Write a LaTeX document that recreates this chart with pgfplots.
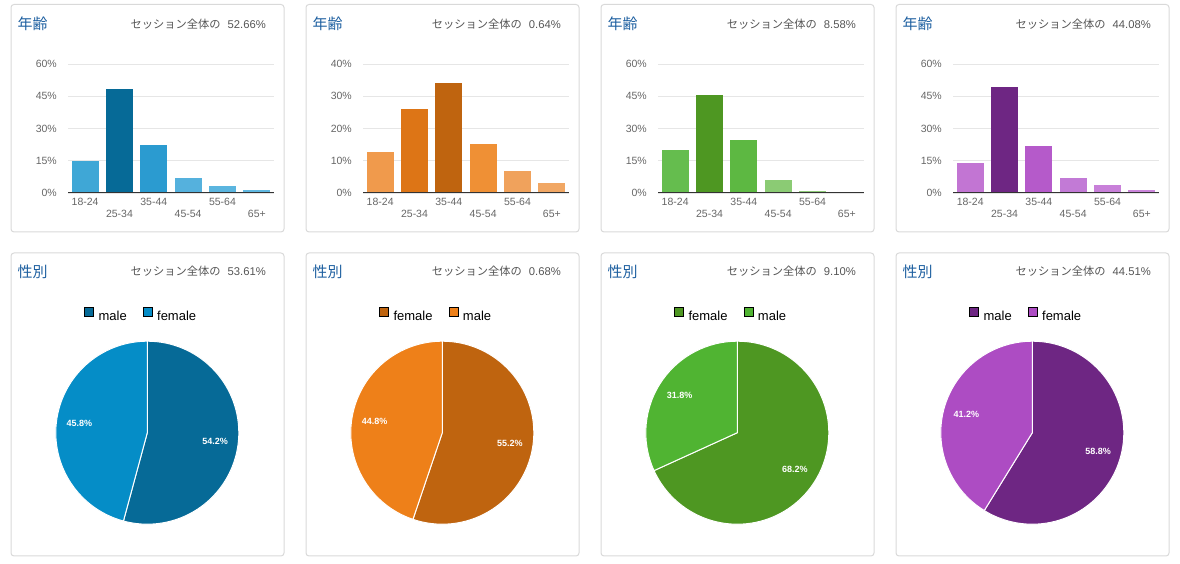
\documentclass[border=0pt]{standalone}
\usepackage{fontspec}
\setmainfont{Liberation Sans}
\newfontfamily\cjk{Noto Sans CJK JP}
\usepackage{pgfplots}
\pgfplotsset{compat=1.18}

% panel furniture
\definecolor{boxc}{HTML}{D9D9D9}
\definecolor{titlec}{HTML}{1D5FA0}
\definecolor{subc}{HTML}{555555}
\definecolor{tickc}{HTML}{666666}
\definecolor{gridc}{HTML}{E6E6E6}
\definecolor{axisc}{HTML}{333333}
% blue
\definecolor{bA}{HTML}{3FA7D6}\definecolor{bB}{HTML}{066A97}\definecolor{bC}{HTML}{2B9BD0}
\definecolor{bD}{HTML}{55B1DD}\definecolor{bE}{HTML}{5BB5DF}\definecolor{bF}{HTML}{60B8E1}
\definecolor{bPie}{HTML}{058DC7}
% orange
\definecolor{oA}{HTML}{F09A4C}\definecolor{oB}{HTML}{DD7516}\definecolor{oC}{HTML}{BF640F}
\definecolor{oD}{HTML}{EF9035}\definecolor{oE}{HTML}{F0A25C}\definecolor{oF}{HTML}{F1A764}
\definecolor{oPie}{HTML}{EE8019}
% green
\definecolor{gA}{HTML}{65BD4E}\definecolor{gB}{HTML}{4E9722}\definecolor{gC}{HTML}{5DB842}
\definecolor{gD}{HTML}{8BCB74}\definecolor{gE}{HTML}{90CD79}\definecolor{gF}{HTML}{9AD184}
\definecolor{gPie}{HTML}{50B432}
% purple
\definecolor{pA}{HTML}{C275D3}\definecolor{pB}{HTML}{6E2683}\definecolor{pC}{HTML}{B55ACA}
\definecolor{pD}{HTML}{C27AD6}\definecolor{pE}{HTML}{C880D9}\definecolor{pF}{HTML}{CB86DB}
\definecolor{pPie}{HTML}{AD4CC3}

\pgfplotsset{
  agebar/.style={
    scale only axis, width=206pt, height=129pt, anchor=south west,
    xmin=-0.5, xmax=5.5, ymin=0,
    axis line style={draw=none}, major tick length=0pt,
    ymajorgrids, grid style={gridc, line width=0.8pt},
    /pgf/number format/assume math mode=true,
    tick label style={font=\fontsize{10.5}{12}\selectfont, text=tickc, inner sep=0pt},
    yticklabel={\pgfmathprintnumber{\tick}\%},
    yticklabel style={anchor=east, xshift=-11pt},
    xtick={0,2,4}, xticklabels={18-24,35-44,55-64},
    xticklabel style={anchor=center, yshift=-9pt},
    extra x ticks={1,3,5}, extra x tick labels={25-34,45-54,65+},
    extra x tick style={grid=none, xticklabel style={yshift=-12pt}},
  },
  b/.style={ybar, bar width=27pt, bar shift=0pt, fill=#1, draw=none},
  pie/.style={
    hide axis, scale only axis, width=183pt, height=183pt, anchor=center,
    xmin=-1, xmax=1, ymin=-1, ymax=1,
    legend image code/.code={\fill[##1] (0pt,0pt) rectangle (9pt,9pt);},
    legend columns=2,
    legend style={draw=none, fill=none, inner sep=0pt, at={(0.461,1.145)}, anchor=center,
      nodes={inner sep=0pt, font=\fontsize{13}{15}\selectfont, text=black},
      /tikz/every odd column/.append style={column sep=5pt},
      /tikz/every even column/.append style={column sep=16pt}},
  },
}

% two slices clockwise from the top: value1, value2, colour1, colour2
\newcommand\pieslices[4]{%
  \path[fill=#3, draw=white, line width=1pt, line join=round] (axis cs:0,0) -- ++(90:91.5pt)
    arc[start angle=90, end angle={90-3.6*#1}, radius=91.5pt] -- cycle;
  \path[fill=#4, draw=white, line width=1pt, line join=round] (axis cs:0,0) -- ++({90-3.6*#1}:91.5pt)
    arc[start angle={90-3.6*#1}, end angle=-270, radius=91.5pt] -- cycle;
  \path (axis cs:0,0) ++({90-1.8*#1}:68.5pt)
    node[text=white, font=\bfseries\fontsize{9}{10}\selectfont] {#1\%};
  \path (axis cs:0,0) ++({90-3.6*#1-1.8*#2}:68.5pt)
    node[text=white, font=\bfseries\fontsize{9}{10}\selectfont] {#2\%};
}

\begin{document}
\begin{tikzpicture}
\useasboundingbox (0,0) rectangle (1180pt,564pt);

% boxes and titles
\foreach \L in {11,306,601,896} {
  \draw[boxc, line width=1pt, rounded corners=3pt] (\L pt,332pt) rectangle ({(\L+273)*1pt},559.5pt);
  \draw[boxc, line width=1pt, rounded corners=3pt] (\L pt,8pt) rectangle ({(\L+273)*1pt},311pt);
  \node[anchor=base west, inner sep=0pt, text=titlec, font=\cjk\fontsize{15}{15}\selectfont]
    at ({(\L+6.5)*1pt},534pt) {年齢};
  \node[anchor=base west, inner sep=0pt, text=titlec, font=\cjk\fontsize{15}{15}\selectfont]
    at ({(\L+6.5)*1pt},286pt) {性別};
}
\tikzset{sub/.style={anchor=base east, inner sep=0pt, text=subc, font=\fontsize{11.25}{13}\selectfont}}
\node[sub] at (266pt,535.7pt) {{\cjk セッション全体の}\hspace{7pt}52.66\%};
\node[sub] at (561pt,535.7pt) {{\cjk セッション全体の}\hspace{7pt}0.64\%};
\node[sub] at (856pt,535.7pt) {{\cjk セッション全体の}\hspace{7pt}8.58\%};
\node[sub] at (1151pt,535.7pt) {{\cjk セッション全体の}\hspace{7pt}44.08\%};
\node[sub] at (266pt,288pt) {{\cjk セッション全体の}\hspace{7pt}53.61\%};
\node[sub] at (561pt,288pt) {{\cjk セッション全体の}\hspace{7pt}0.68\%};
\node[sub] at (856pt,288pt) {{\cjk セッション全体の}\hspace{7pt}9.10\%};
\node[sub] at (1151pt,288pt) {{\cjk セッション全体の}\hspace{7pt}44.51\%};

% age, blue
\begin{axis}[agebar, at={(68pt,371pt)}, ymax=60, ytick={0,15,30,45,60}]
  \addplot[b=bA] coordinates {(0,15.0)};
  \addplot[b=bB] coordinates {(1,48.5)};
  \addplot[b=bC] coordinates {(2,22.5)};
  \addplot[b=bD] coordinates {(3,7.1)};
  \addplot[b=bE] coordinates {(4,3.4)};
  \addplot[b=bF] coordinates {(5,1.5)};
  \draw[axisc, line width=1pt] (axis cs:-0.5,0) -- (axis cs:5.5,0);
\end{axis}
% age, orange
\begin{axis}[agebar, at={(363pt,371pt)}, ymax=40, ytick={0,10,20,30,40}]
  \addplot[b=oA] coordinates {(0,12.8)};
  \addplot[b=oB] coordinates {(1,26.1)};
  \addplot[b=oC] coordinates {(2,34.2)};
  \addplot[b=oD] coordinates {(3,15.3)};
  \addplot[b=oE] coordinates {(4,6.9)};
  \addplot[b=oF] coordinates {(5,3.2)};
  \draw[axisc, line width=1pt] (axis cs:-0.5,0) -- (axis cs:5.5,0);
\end{axis}
% age, green
\begin{axis}[agebar, at={(658pt,371pt)}, ymax=60, ytick={0,15,30,45,60}]
  \addplot[b=gA] coordinates {(0,20.2)};
  \addplot[b=gB] coordinates {(1,45.7)};
  \addplot[b=gC] coordinates {(2,24.8)};
  \addplot[b=gD] coordinates {(3,6.2)};
  \addplot[b=gE] coordinates {(4,1.1)};
  \addplot[b=gF] coordinates {(5,0.5)};
  \draw[axisc, line width=1pt] (axis cs:-0.5,0) -- (axis cs:5.5,0);
\end{axis}
% age, purple
\begin{axis}[agebar, at={(953pt,371pt)}, ymax=60, ytick={0,15,30,45,60}]
  \addplot[b=pA] coordinates {(0,14.1)};
  \addplot[b=pB] coordinates {(1,49.5)};
  \addplot[b=pC] coordinates {(2,22.0)};
  \addplot[b=pD] coordinates {(3,7.1)};
  \addplot[b=pE] coordinates {(4,3.9)};
  \addplot[b=pF] coordinates {(5,1.5)};
  \draw[axisc, line width=1pt] (axis cs:-0.5,0) -- (axis cs:5.5,0);
\end{axis}

% gender pies
\begin{axis}[pie, at={(147.3pt,131.3pt)}]
  \addlegendimage{fill=bB}\addlegendentry{male}
  \addlegendimage{fill=bPie}\addlegendentry{female}
  \pieslices{54.2}{45.8}{bB}{bPie}
\end{axis}
\begin{axis}[pie, at={(442.3pt,131.3pt)}]
  \addlegendimage{fill=oC}\addlegendentry{female}
  \addlegendimage{fill=oPie}\addlegendentry{male}
  \pieslices{55.2}{44.8}{oC}{oPie}
\end{axis}
\begin{axis}[pie, at={(737.3pt,131.3pt)}]
  \addlegendimage{fill=gB}\addlegendentry{female}
  \addlegendimage{fill=gPie}\addlegendentry{male}
  \pieslices{68.2}{31.8}{gB}{gPie}
\end{axis}
\begin{axis}[pie, at={(1032.3pt,131.3pt)}]
  \addlegendimage{fill=pB}\addlegendentry{male}
  \addlegendimage{fill=pPie}\addlegendentry{female}
  \pieslices{58.8}{41.2}{pB}{pPie}
\end{axis}
\end{tikzpicture}
\end{document}
